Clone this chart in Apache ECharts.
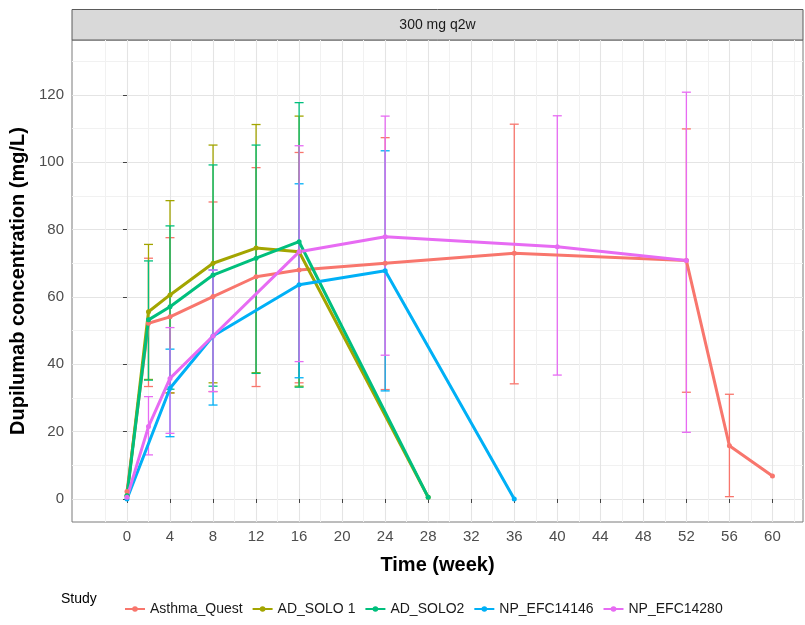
<!DOCTYPE html>
<html>
<head>
<meta charset="utf-8">
<script src="https://cdn.jsdelivr.net/npm/echarts@6/dist/echarts.min.js"></script>
<style>
html,body{margin:0;padding:0;background:#fff;}
#chart{width:805px;height:625px;}
</style>
</head>
<body>
<div id="chart"></div>
<script>
// ---- data ----
const studies = ['Asthma_Quest', 'AD_SOLO 1', 'AD_SOLO2', 'NP_EFC14146', 'NP_EFC14280'];
const colors = ['#F8766D', '#A3A500', '#00BF7D', '#00B0F6', '#E76BF3'];
const panelTitle = '300 mg q2w';
const xTicks = [0,4,8,12,16,20,24,28,32,36,40,44,48,52,56,60];
const yTicks = [0,20,40,60,80,100,120];

const asthmaWeeks = [0, 2, 4, 8, 12, 16, 24, 36, 52, 56, 60];
const asthmaMean  = [2.2, 52.2, 54.1, 60.1, 66.0, 68.0, 70.0, 73.0, 70.8, 15.8, 6.8];
const asthmaLow   = [null, 33.4, 31.5, 31.9, 33.4, 34.5, 32.5, 34.2, 31.7, 0.7, null];
const asthmaHigh  = [null, 71.5, 77.6, 88.2, 98.4, 102.9, 107.3, 111.3, 109.9, 31.1, null];

const solo1Weeks = [0, 2, 4, 8, 12, 16, 28];
const solo1Mean  = [1.0, 55.6, 60.6, 70.0, 74.5, 73.4, 0.5];
const solo1Low   = [null, 35.5, 31.5, 34.5, 37.5, 33.5, null];
const solo1High  = [null, 75.6, 88.6, 105.1, 111.2, 113.7, null];

const solo2Weeks = [0, 2, 4, 8, 12, 16, 28];
const solo2Mean  = [1.0, 53.2, 57.1, 66.5, 71.5, 76.4, 0.5];
const solo2Low   = [null, 35.3, 32.6, 33.5, 37.3, 33.2, null];
const solo2High  = [null, 70.7, 81.1, 99.2, 105.1, 117.7, null];

const efc14146Weeks = [0, 4, 8, 16, 24, 36];
const efc14146Mean  = [0, 32.9, 48.4, 63.6, 67.8, 0];
const efc14146Low   = [null, 18.5, 27.9, 36.0, 32.1, null];
const efc14146High  = [null, 44.5, 68.0, 93.6, 103.4, null];

const efc14280Weeks = [0, 2, 4, 8, 16, 24, 40, 52];
const efc14280Mean  = [0.5, 21.5, 35.8, 48.4, 73.4, 77.9, 74.9, 70.8];
const efc14280Low   = [null, 13.1, 19.5, 31.9, 40.8, 42.7, 36.8, 19.8];
const efc14280High  = [null, 30.4, 50.9, 68.0, 104.9, 113.7, 113.8, 120.8];

const allWeeks = [asthmaWeeks, solo1Weeks, solo2Weeks, efc14146Weeks, efc14280Weeks];
const allMean  = [asthmaMean, solo1Mean, solo2Mean, efc14146Mean, efc14280Mean];
const allLow   = [asthmaLow, solo1Low, solo2Low, efc14146Low, efc14280Low];
const allHigh  = [asthmaHigh, solo1High, solo2High, efc14146High, efc14280High];

// ---- build chart ----
const chart = echarts.init(document.getElementById('chart'), null, {renderer: 'canvas'});
const FONT = 'Liberation Sans, Arial, Helvetica, sans-serif';

const series = [];
// error bars first (beneath lines)
studies.forEach((name, i) => {
  const data = [];
  allWeeks[i].forEach((w, j) => {
    if (allLow[i][j] != null) data.push([w, allLow[i][j], allHigh[i][j]]);
  });
  series.push({
    type: 'custom',
    name: name + ' SD',
    z: 2,
    silent: true,
    encode: {x: 0, y: [1, 2]},
    data: data,
    renderItem: function (params, api) {
      const x = api.value(0);
      const lo = api.coord([x, api.value(1)]);
      const hi = api.coord([x, api.value(2)]);
      const hw = 4.5;
      const st = {stroke: colors[i], lineWidth: 1.3};
      return {
        type: 'group',
        children: [
          {type: 'line', shape: {x1: lo[0], y1: lo[1], x2: hi[0], y2: hi[1]}, style: st},
          {type: 'line', shape: {x1: lo[0] - hw, y1: lo[1], x2: lo[0] + hw, y2: lo[1]}, style: st},
          {type: 'line', shape: {x1: hi[0] - hw, y1: hi[1], x2: hi[0] + hw, y2: hi[1]}, style: st}
        ]
      };
    }
  });
});
studies.forEach((name, i) => {
  series.push({
    type: 'line',
    name: name,
    z: 3,
    data: allWeeks[i].map((w, j) => [w, allMean[i][j]]),
    symbol: 'circle',
    symbolSize: 5,
    showSymbol: true,
    lineStyle: {width: 3, color: colors[i]},
    itemStyle: {color: colors[i]},
    emphasis: {disabled: true}
  });
});

const option = {
  animation: false,
  backgroundColor: '#ffffff',
  color: colors,
  textStyle: {fontFamily: FONT},
  grid: {
    left: 72, right: 2, top: 40, bottom: 103,
    show: true, borderColor: '#7a7a7a', borderWidth: 1, backgroundColor: 'transparent'
  },
  xAxis: {
    type: 'value',
    min: -5.11, max: 62.84,
    minInterval: 4, maxInterval: 4, splitNumber: 17,
    name: 'Time (week)',
    nameLocation: 'middle',
    nameGap: 33,
    nameTextStyle: {fontSize: 20, fontWeight: 'bold', color: '#000', fontFamily: FONT},
    axisLine: {show: false},
    axisTick: {show: true, length: 4, customValues: xTicks, lineStyle: {color: '#444', width: 1}},
    axisLabel: {customValues: xTicks, fontSize: 15, color: '#4d4d4d', margin: 7, fontFamily: FONT},
    splitLine: {show: true, lineStyle: {color: '#e4e4e4', width: 1.1}},
    minorTick: {show: false, splitNumber: 2},
    minorSplitLine: {show: true, lineStyle: {color: '#f1f1f1', width: 1}}
  },
  yAxis: {
    type: 'value',
    min: -6.83, max: 136.3,
    minInterval: 20, maxInterval: 20, splitNumber: 7,
    name: 'Dupilumab concentration (mg/L)',
    nameLocation: 'middle',
    nameGap: 40,
    nameTextStyle: {fontSize: 20, fontWeight: 'bold', color: '#000', fontFamily: FONT},
    axisLine: {show: false},
    axisTick: {show: true, length: 4, customValues: yTicks, lineStyle: {color: '#444', width: 1}},
    axisLabel: {customValues: yTicks, fontSize: 15, color: '#4d4d4d', margin: 8, fontFamily: FONT},
    splitLine: {show: true, lineStyle: {color: '#e4e4e4', width: 1.1}},
    minorTick: {show: false, splitNumber: 2},
    minorSplitLine: {show: true, lineStyle: {color: '#f1f1f1', width: 1}}
  },
  legend: {
    data: studies,
    left: 119,
    top: 597,
    orient: 'horizontal',
    itemWidth: 20,
    itemHeight: 7,
    itemGap: 9,
    selectedMode: false,
    textStyle: {fontSize: 14, color: '#1a1a1a', fontFamily: FONT}
  },
  graphic: [
    {
      type: 'rect',
      shape: {x: 72, y: 9.5, width: 731, height: 30.5},
      style: {fill: '#d9d9d9', stroke: '#5a5a5a', lineWidth: 1},
      silent: true
    },
    {
      type: 'text',
      x: 437.5, y: 25,
      style: {text: panelTitle, fill: '#1a1a1a', font: '14px ' + FONT, textAlign: 'center', textVerticalAlign: 'middle'},
      silent: true
    },
    {
      type: 'text',
      x: 61, y: 599,
      style: {text: 'Study', fill: '#000', font: '14px ' + FONT, textAlign: 'left', textVerticalAlign: 'middle'},
      silent: true
    }
  ],
  series: series
};
chart.setOption(option);
</script>
</body>
</html>
